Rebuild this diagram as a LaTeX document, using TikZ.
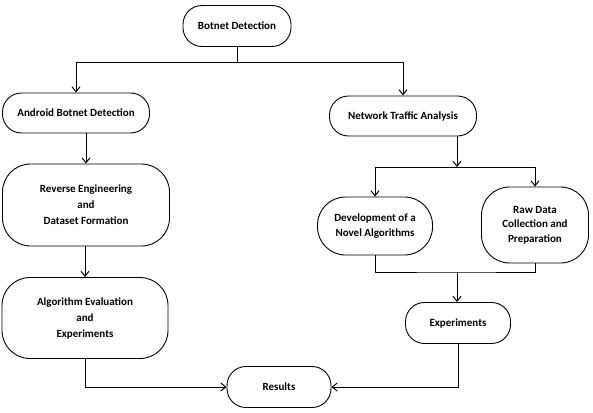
\documentclass[tikz,border=0pt]{standalone}
\usepackage{fontspec}
\setmainfont{Carlito}
\usetikzlibrary{arrows.meta}
\tikzset{
  blk/.style={draw, line width=0.9pt, rounded corners=19pt, align=center, inner sep=2pt},
  tallblk/.style={blk, rounded corners=28pt},
  flow/.style={line width=1pt, -{Straight Barb[length=5pt,width=8pt]}}
}
\begin{document}
\begin{tikzpicture}[x=1pt, y=-1pt, font=\bfseries\fontsize{11}{16}\selectfont, line join=round]
\useasboundingbox (0,0) rectangle (593,412);
% boxes
\node[blk, minimum width=108pt, minimum height=41pt] (bd) at (237,26) {Botnet Detection};
\node[blk, minimum width=147pt, minimum height=40pt] (abd) at (76,113) {Android Botnet Detection};
\node[blk, minimum width=147pt, minimum height=40pt] (nta) at (403,116) {Network Traffic Analysis};
\node[tallblk, minimum width=167pt, minimum height=82pt] (rev) at (86,205) {Reverse Engineering\\and\\Dataset Formation};
\node[tallblk, minimum width=166pt, minimum height=81pt] (alg) at (85,318) {Algorithm Evaluation\\and\\Experiments};
\node[blk, minimum width=104pt, minimum height=41pt] (res) at (279,387) {Results};
\node[tallblk, minimum width=115pt, minimum height=58pt, font=\bfseries\fontsize{11}{14.7}\selectfont] (dev) at (375,226) {Development of a\\Novel Algorithms};
\node[tallblk, minimum width=107pt, minimum height=76pt, font=\bfseries\fontsize{11}{14.7}\selectfont] (raw) at (535,225) {Raw Data\\Collection and\\Preparation};
\node[blk, minimum width=105pt, minimum height=41pt] (exp) at (458,323) {Experiments};
% connectors
\coordinate (sp) at (237,62);
\coordinate (fork) at (457,167);
\coordinate (join) at (457,272);
\draw[line width=1pt] (bd.south) -- (sp);
\draw[flow] (sp) -| (abd.north);
\draw[flow] (sp) -| (nta.north);
\draw[flow] (rev.north |- abd.south) -- (rev.north);
\draw[flow] (alg.north |- rev.south) -- (alg.north);
\draw[flow] (alg.south) |- (res.west);
\draw[flow] (nta.south -| fork) -- (fork);
\draw[flow] (fork) -| (dev.north);
\draw[flow] (fork) -| (raw.north);
\draw[line width=1pt] (dev.south) |- (join) -| (raw.south);
\draw[flow] (join) -- (exp.north -| join);
\draw[flow] (exp.south) |- (res.east);
\end{tikzpicture}
\end{document}
